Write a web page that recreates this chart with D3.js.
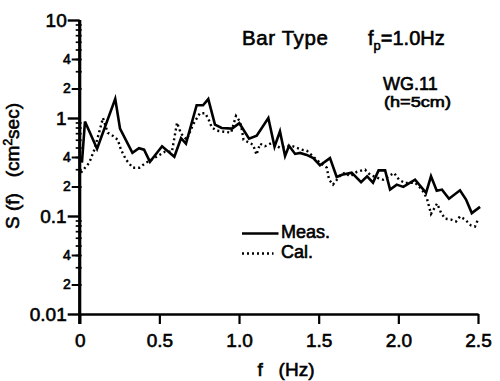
<!DOCTYPE html>
<html>
<head>
<meta charset="utf-8">
<script src="https://cdn.jsdelivr.net/npm/d3@7/dist/d3.min.js"></script>
<style>
  html, body { margin: 0; padding: 0; background: #fff; }
  svg { display: block; }
  text { font-family: "Liberation Sans", Arial, Helvetica, sans-serif; fill: #000; }
</style>
</head>
<body>
<svg id="chart" width="500" height="381"></svg>
<script>
// Measured spectrum (solid line): frequency in Hz, S(f) in cm^2·sec
const freqMeas = [0.014, 0.033, 0.109, 0.223, 0.253, 0.331, 0.372, 0.404, 0.441, 0.517,
  0.594, 0.636, 0.667, 0.734, 0.774, 0.807, 0.849, 0.891, 0.956, 1.002,
  1.063, 1.111, 1.184, 1.223, 1.257, 1.289, 1.314, 1.352, 1.383, 1.425,
  1.466, 1.508, 1.571, 1.613, 1.647, 1.707, 1.766, 1.804, 1.841, 1.876,
  1.917, 1.948, 1.990, 2.031, 2.105, 2.174, 2.205, 2.241, 2.274, 2.318,
  2.387, 2.425, 2.461, 2.513];
const sMeas = [0.35, 0.92, 0.486, 1.57, 0.78, 0.442, 0.492, 0.475, 0.358, 0.515,
  0.403, 0.622, 0.547, 1.35, 1.35, 1.56, 0.855, 0.79, 0.78, 0.885,
  0.615, 0.66, 1.0, 0.51, 0.73, 0.41, 0.52, 0.43, 0.44, 0.42,
  0.39, 0.33, 0.39, 0.25, 0.264, 0.277, 0.221, 0.254, 0.219, 0.292,
  0.292, 0.186, 0.209, 0.198, 0.235, 0.172, 0.254, 0.181, 0.186, 0.150,
  0.183, 0.147, 0.107, 0.124];

// Calculated spectrum (dotted line)
const freqCal = [0.008, 0.060, 0.092, 0.123, 0.146, 0.176, 0.207, 0.239, 0.259, 0.291,
  0.333, 0.374, 0.416, 0.473, 0.535, 0.579, 0.611, 0.636, 0.672, 0.711,
  0.755, 0.787, 0.807, 0.830, 0.862, 0.950, 0.981, 1.006, 1.019, 1.028,
  1.088, 1.110, 1.132, 1.163, 1.205, 1.257, 1.295, 1.341, 1.394, 1.425,
  1.466, 1.508, 1.551, 1.565, 1.590, 1.634, 1.665, 1.697, 1.741, 1.791,
  1.822, 1.866, 1.904, 1.973, 2.004, 2.042, 2.105, 2.149, 2.180, 2.205,
  2.243, 2.268, 2.293, 2.331, 2.362, 2.387, 2.419, 2.456, 2.481, 2.500];
const sCal = [0.277, 0.350, 0.475, 0.725, 1.0, 0.708, 0.66, 0.60, 0.475, 0.375,
  0.311, 0.311, 0.350, 0.394, 0.453, 0.453, 0.895, 0.692, 0.60, 0.855,
  1.12, 1.12, 0.984, 0.796, 0.742, 0.708, 1.05, 0.917, 0.742, 0.60,
  0.534, 0.422, 0.547, 0.515, 0.556, 0.497, 0.52, 0.513, 0.475, 0.464,
  0.403, 0.35, 0.311, 0.235, 0.209, 0.258, 0.277, 0.254, 0.283, 0.297,
  0.264, 0.246, 0.235, 0.275, 0.235, 0.217, 0.219, 0.186, 0.150, 0.105,
  0.134, 0.108, 0.094, 0.092, 0.088, 0.099, 0.092, 0.080, 0.078, 0.092];

// Axis ticks
const xTicks = [0, 0.5, 1.0, 1.5, 2.0, 2.5];
const xTickLabels = ["0", "0.5", "1.0", "1.5", "2.0", "2.5"];
const yMajor = [0.01, 0.1, 1, 10];
const yMajorLabels = ["0.01", "0.1", "1", "10"];
const yMinorLabeled = [0.02, 0.04, 0.2, 0.4, 2, 4];
const yMinorLabels = ["2", "4", "2", "4", "2", "4"];
const legendNames = ["Meas.", "Cal."];

const svg = d3.select("#chart");
svg.append("rect").attr("width", 500).attr("height", 381).attr("fill", "#fff");

const x = d3.scaleLinear().domain([0, 2.5]).range([79.7, 478]);
const y = d3.scaleLog().domain([0.01, 10]).range([314, 20]);

// slightly heavier glyphs, like the printed lettering
const heavy = sel => sel.attr("stroke", "#000").attr("stroke-width", 0.6);

// ---- curves ----
const line = d3.line().x(d => x(d[0])).y(d => y(d[1]));

svg.append("path")
  .datum(d3.zip(freqCal, sCal))
  .attr("d", line)
  .attr("fill", "none")
  .attr("stroke", "#000")
  .attr("stroke-width", 2.4)
  .attr("stroke-dasharray", "2,3");

svg.append("path")
  .datum(d3.zip(freqMeas, sMeas))
  .attr("d", line)
  .attr("fill", "none")
  .attr("stroke", "#000")
  .attr("stroke-width", 2.6)
  .attr("stroke-linejoin", "miter");

// ---- x axis ----
const xAxis = svg.append("g")
  .attr("transform", `translate(0,${y(0.01)})`)
  .call(d3.axisBottom(x).tickValues(xTicks)
    .tickFormat((d, i) => xTickLabels[i])
    .tickSize(10).tickSizeOuter(0).tickPadding(10));
xAxis.select(".domain").attr("stroke-width", 2.6);
xAxis.selectAll(".tick line").attr("stroke-width", 2.2);
xAxis.selectAll(".tick text")
  .attr("font-size", 19).attr("font-family", "Liberation Sans, Arial, sans-serif")
  .call(heavy);

// ---- y axis ----
const minorVals = [];
for (let e = -2; e < 1; e++) {
  for (let m = 2; m <= 9; m++) minorVals.push(m * Math.pow(10, e));
}

const yMinorAxis = svg.append("g")
  .attr("transform", `translate(${x(0)},0)`)
  .call(d3.axisLeft(y).tickValues(minorVals).tickFormat("").tickSize(4).tickSizeOuter(0));
yMinorAxis.select(".domain").remove();
yMinorAxis.selectAll(".tick line").attr("x2", -4).attr("x1", 2).attr("stroke-width", 1.7);

const yLabeledMinor = svg.append("g")
  .attr("transform", `translate(${x(0)},0)`)
  .call(d3.axisLeft(y).tickValues(yMinorLabeled)
    .tickFormat((d, i) => yMinorLabels[i]).tickSize(8).tickSizeOuter(0).tickPadding(1));
yLabeledMinor.select(".domain").remove();
yLabeledMinor.selectAll(".tick line").attr("stroke-width", 2);
yLabeledMinor.selectAll(".tick text")
  .attr("font-size", 14).attr("font-family", "Liberation Sans, Arial, sans-serif")
  .call(heavy);

const yAxis = svg.append("g")
  .attr("transform", `translate(${x(0)},0)`)
  .call(d3.axisLeft(y).tickValues(yMajor)
    .tickFormat((d, i) => yMajorLabels[i]).tickSize(12).tickSizeOuter(0).tickPadding(1));
yAxis.select(".domain").attr("stroke-width", 3.2)
  .attr("d", `M0,${y(10)}V${y(0.01) + 10}`);
yAxis.selectAll(".tick line").attr("stroke-width", 2.4);
yAxis.selectAll(".tick text")
  .attr("font-size", 19).attr("font-family", "Liberation Sans, Arial, sans-serif")
  .call(heavy);

// ---- axis titles ----
svg.append("text")
  .attr("x", 286).attr("y", 376)
  .attr("text-anchor", "middle")
  .attr("font-size", 19)
  .attr("xml:space", "preserve")
  .call(heavy)
  .text("f   (Hz)");

const yTitle = svg.append("text")
  .attr("transform", "translate(19,166) rotate(-90)")
  .attr("text-anchor", "middle")
  .attr("font-size", 19)
  .attr("xml:space", "preserve")
  .call(heavy);
yTitle.append("tspan").text("S (f)   (cm");
yTitle.append("tspan").attr("font-size", 12).attr("dy", -7).text("2");
yTitle.append("tspan").attr("dy", 7).text("sec)");

// ---- annotations ----
svg.append("text")
  .attr("x", 242).attr("y", 45)
  .attr("font-size", 20.5)
  .attr("letter-spacing", 0.6)
  .call(heavy)
  .text("Bar Type");

const fp = svg.append("text")
  .attr("x", 368).attr("y", 45)
  .attr("font-size", 20)
  .call(heavy);
fp.append("tspan").text("f");
fp.append("tspan").attr("font-size", 13).attr("dy", 5).text("p");
fp.append("tspan").attr("dy", -5).text("=1.0Hz");

svg.append("text")
  .attr("x", 383).attr("y", 89.5)
  .attr("font-size", 18)
  .call(heavy)
  .text("WG.11");

svg.append("text")
  .attr("x", 384).attr("y", 107)
  .attr("font-size", 14)
  .attr("textLength", 67).attr("lengthAdjust", "spacingAndGlyphs")
  .call(heavy)
  .text("(h=5cm)");

// ---- legend ----
const legend = svg.append("g");
const legendRows = [
  { name: legendNames[0], dash: null, y: 233.5, ty: 238, len: 36.5 },
  { name: legendNames[1], dash: "2,3", y: 253.5, ty: 258, len: 31.5 }
];
legendRows.forEach(r => {
  legend.append("line")
    .attr("x1", 242).attr("x2", 242 + r.len)
    .attr("y1", r.y).attr("y2", r.y)
    .attr("stroke", "#000")
    .attr("stroke-width", 2.3)
    .attr("stroke-dasharray", r.dash);
  legend.append("text")
    .attr("x", 281).attr("y", r.ty)
    .attr("font-size", 18)
    .call(heavy)
    .text(r.name);
});
</script>
</body>
</html>
